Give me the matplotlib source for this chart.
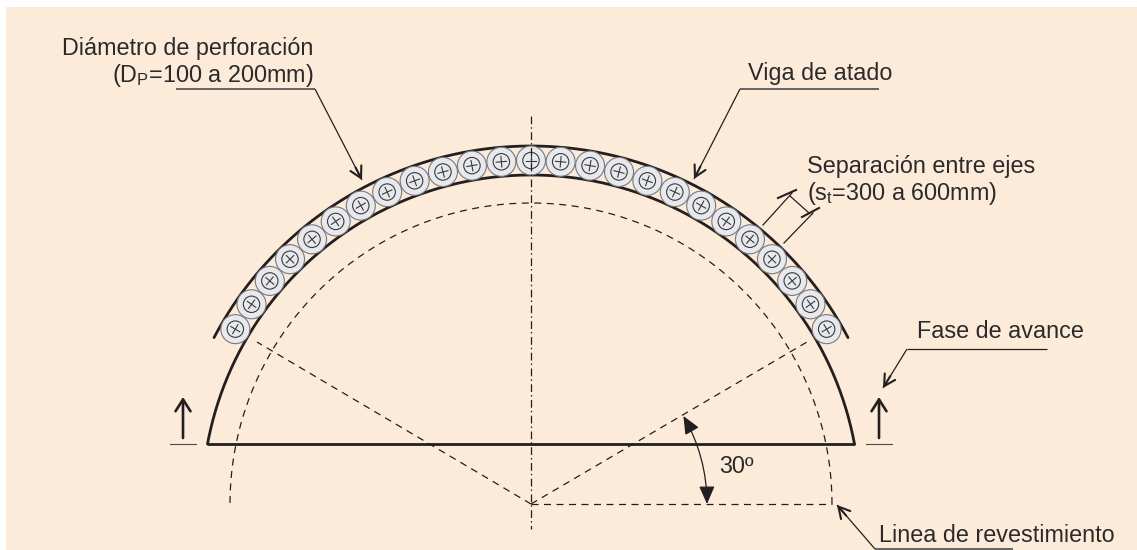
import numpy as np
import matplotlib
matplotlib.use("Agg")
import matplotlib.pyplot as plt
from matplotlib.patches import Circle, Rectangle

plt.rcParams['font.family'] = ['Liberation Sans', 'DejaVu Sans']
plt.rcParams['mathtext.fontset'] = 'custom'
plt.rcParams['mathtext.rm'] = 'Liberation Sans'
plt.rcParams['mathtext.default'] = 'rm'

# Geometry, in pixels
center = (531, 504)
r_lining = 301       # dashed lining line
r_inner = 329        # excavation profile
r_outer = 358        # tie beam upper edge
r_holes = 343.5
hole_angles = [30.6, 35.55, 40.5, 45.45, 50.4, 55.35, 60.3, 65.25, 70.2, 75.15, 80.1, 85.05, 90.0,
               94.95, 99.9, 104.85, 109.8, 114.75, 119.7, 124.65, 129.6, 134.55, 139.5, 144.45, 149.4]
hole_r = 14.5
bar_r = 8.2
cross_r = 5.2
floor_y = 444
floor_x = (208, 854)

ink = '#231f20'
bg = '#fdebd9'


def polar(r, deg):
    a = np.radians(deg)
    return center[0] + r * np.cos(a), center[1] - r * np.sin(a)


def arc(ax, r, a1, a2, **kw):
    x, y = polar(r, np.linspace(a1, a2, 300))
    ax.plot(x, y, **kw)


def leader(ax, pts, shelf_lw=0.9, shelf_color=ink):
    # horizontal shelf + slanted line finishing in an open arrow head
    ax.plot([pts[0][0], pts[1][0]], [pts[0][1], pts[1][1]], color=shelf_color, lw=shelf_lw,
            solid_capstyle='butt')
    ax.plot([pts[1][0], pts[2][0]], [pts[1][1], pts[2][1]], color=ink, lw=0.9,
            solid_capstyle='butt')
    d = np.subtract(pts[-2], pts[-1]).astype(float)
    d = d / np.hypot(*d) * 14
    ax.annotate('', xy=pts[-1], xytext=(pts[-1][0] + d[0], pts[-1][1] + d[1]),
                arrowprops=dict(arrowstyle='->,head_length=8,head_width=4.4', mutation_scale=1,
                                lw=1.5, color=ink, shrinkA=0, shrinkB=0))


fig = plt.figure(figsize=(11.37, 5.5), dpi=100, facecolor='white')
ax = fig.add_axes([0, 0, 1, 1])
ax.set_xlim(0, 1137)
ax.set_ylim(550, 0)
ax.axis('off')
ax.add_patch(Rectangle((6, 7), 1131, 543, fc=bg, ec='none', zorder=0))

# Tunnel profile and floor
arc(ax, r_outer, 27.7, 152.3, color=ink, lw=2.0, solid_capstyle='round')
arc(ax, r_inner, 10.5, 169.5, color=ink, lw=2.0, solid_capstyle='round')
ax.plot(floor_x, [floor_y, floor_y], color=ink, lw=2.0, solid_capstyle='round')

# Micropiles
for a in hole_angles:
    cx, cy = polar(r_holes, a)
    ax.add_patch(Circle((cx, cy), hole_r, fc='#e7e9ec', ec='#77797b', lw=0.8, zorder=3))
    ax.add_patch(Circle((cx, cy), bar_r, fc='none', ec='#3a3a3c', lw=0.8, zorder=4))
    for b in (a, a + 90):
        dx = cross_r * np.cos(np.radians(b))
        dy = cross_r * np.sin(np.radians(b))
        ax.plot([cx - dx, cx + dx], [cy + dy, cy - dy], color='#3a3a3c', lw=0.8, zorder=4)

# Dashed construction lines
dash = dict(color=ink, lw=0.9, linestyle=(0, (5.6, 4.4)), dash_capstyle='butt')
arc(ax, r_lining, 0, 180.4, **dash)
ax.plot([center[0], 832], [center[1], center[1]], **dash)
ax.plot([center[0], 807], [center[1], 342], **dash)
ax.plot([center[0], 257], [center[1], 342], **dash)
ax.plot([531, 531], [116, 529], color=ink, lw=0.9, zorder=5,
        linestyle=(0, (6.2, 2.4, 1.2, 2.8)), dash_capstyle='butt')

# 30 degree angle
ax.annotate('', xy=polar(176, 30), xytext=polar(176, 0),
            arrowprops=dict(arrowstyle='<|-|>,head_length=11,head_width=4.8', mutation_scale=1,
                            connectionstyle='arc3,rad=0.13', lw=0.9, color=ink,
                            shrinkA=0, shrinkB=0))

# Advance arrows
for x in (183, 879):
    ax.annotate('', xy=(x, 397), xytext=(x, 438),
                arrowprops=dict(arrowstyle='->,head_length=8.5,head_width=5.4', mutation_scale=1,
                                lw=1.9, color=ink, shrinkA=0, shrinkB=0))
    ax.plot([x - 13, x + 13], [floor_y, floor_y], color='#4a4a4c', lw=0.8)

# Spacing dimension
ax.plot([763, 792], [225, 193], color=ink, lw=0.9)
ax.plot([784, 813], [243, 213], color=ink, lw=0.9)
ax.plot([790, 809], [196, 213], color=ink, lw=0.9)
ax.plot([778, 796], [198, 190], color=ink, lw=1.5)
ax.plot([802, 819], [217, 208], color=ink, lw=1.5)

# Leaders
leader(ax, [(176, 89), (315, 89), (362, 180)], shelf_lw=1.3, shelf_color='#58585a')
leader(ax, [(879, 89), (740, 89), (694, 179)], shelf_lw=1.3, shelf_color='#58585a')
leader(ax, [(1047, 349), (907, 349), (883, 388)])
leader(ax, [(1013, 549), (875, 549), (837, 505)], shelf_lw=1.3, shelf_color='#58585a')

# Labels
txt = dict(color='#2b2a2b', fontsize=16.8, ha='left', va='baseline')
ax.text(62, 55, 'Diámetro de perforación', **txt)
ax.text(112, 82, r'(D$_{\mathrm{P}}$=100 a 200mm)', **txt)
ax.text(748, 80, 'Viga de atado', **txt)
ax.text(807, 173, 'Separación entre ejes', **txt)
ax.text(807, 200, r'(s$_{\mathrm{t}}$=300 a 600mm)', **txt)
ax.text(917, 338, 'Fase de avance', **txt)
ax.text(719, 473, '30º', **txt)
ax.text(879, 542, 'Linea de revestimiento', **txt)

fig.savefig('out.png', dpi=100)
plt.close(fig)
